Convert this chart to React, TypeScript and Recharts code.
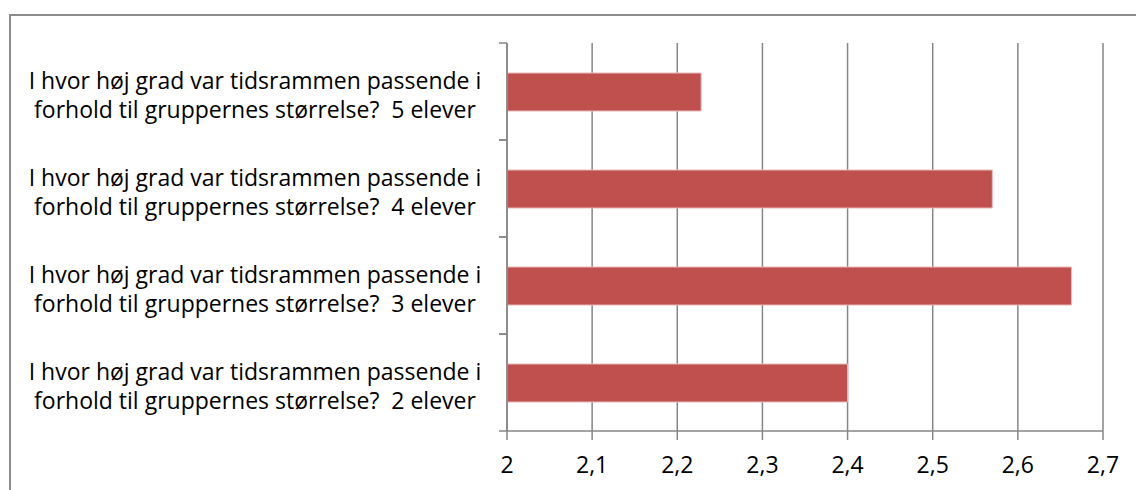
import { Bar, BarChart, CartesianGrid, XAxis, YAxis } from "recharts";

const categories = [
  "I hvor høj grad var tidsrammen passende i forhold til gruppernes størrelse?  5 elever",
  "I hvor høj grad var tidsrammen passende i forhold til gruppernes størrelse?  4 elever",
  "I hvor høj grad var tidsrammen passende i forhold til gruppernes størrelse?  3 elever",
  "I hvor høj grad var tidsrammen passende i forhold til gruppernes størrelse?  2 elever",
];
const values = [2.228, 2.57, 2.663, 2.4];
const xTicks = [2, 2.1, 2.2, 2.3, 2.4, 2.5, 2.6, 2.7];

const data = categories.map((name, i) => ({ name, value: values[i] }));

const FONT = "'Open Sans', 'Noto Sans', sans-serif";
const FS = 23;

// two-line category label, with tick marks at the band edges like Excel
function CategoryTick(props: any) {
  const { x, y, payload } = props;
  const text: string = payload.value;
  const cut = text.indexOf(" forhold");
  const line1 = text.slice(0, cut);
  const line2 = text.slice(cut + 1);
  const half = 48.5;
  const axisX = x + 8;
  return (
    <g>
      <line x1={axisX - 8} x2={axisX} y1={y - half} y2={y - half} stroke="#868686" strokeWidth={1.5} />
      <line x1={axisX - 8} x2={axisX} y1={y + half} y2={y + half} stroke="#868686" strokeWidth={1.5} />
      <text x={255} y={y - 3} textAnchor="middle" fill="#000" fontSize={FS} fontFamily={FONT} style={{ whiteSpace: "pre" }}>
        {line1}
      </text>
      <text x={255} y={y + 26} textAnchor="middle" fill="#000" fontSize={FS} fontFamily={FONT} style={{ whiteSpace: "pre" }}>
        {line2}
      </text>
    </g>
  );
}

export default function App() {
  return (
    <div style={{ position: "absolute", left: 0, top: 0, width: 1136, height: 490, overflow: "hidden", background: "#fff" }}>
      <div
        style={{
          position: "absolute",
          left: 9,
          top: 14,
          width: 1200,
          height: 600,
          border: "2px solid #8c8c8c",
          boxSizing: "border-box",
        }}
      />
      <div style={{ position: "absolute", left: 0, top: 0 }}>
        <BarChart
          layout="vertical"
          width={1136}
          height={490}
          data={data}
          barSize={38}
          margin={{ top: 43, right: 33, bottom: 29, left: 0 }}
        >
          <CartesianGrid horizontal={false} stroke="#868686" strokeWidth={1.5} />
          <XAxis
            type="number"
            domain={[2, 2.7]}
            ticks={xTicks}
            allowDataOverflow
            height={30}
            axisLine={{ stroke: "#868686", strokeWidth: 1.5 }}
            tickLine={{ stroke: "#868686", strokeWidth: 1.5 }}
            tickSize={9}
            tickMargin={17}
            tickFormatter={(v: number) => String(Math.round(v * 10) / 10).replace(".", ",")}
            tick={{ fill: "#000", fontSize: FS, fontFamily: FONT }}
          />
          <YAxis
            type="category"
            dataKey="name"
            width={507}
            axisLine={{ stroke: "#868686", strokeWidth: 1.5 }}
            tickLine={false}
            tickSize={0}
            tickMargin={8}
            tick={<CategoryTick />}
            interval={0}
          />
          <Bar dataKey="value" fill="#C0504D" stroke="#E6B9B8" strokeWidth={1} isAnimationActive={false} />
        </BarChart>
      </div>
    </div>
  );
}
